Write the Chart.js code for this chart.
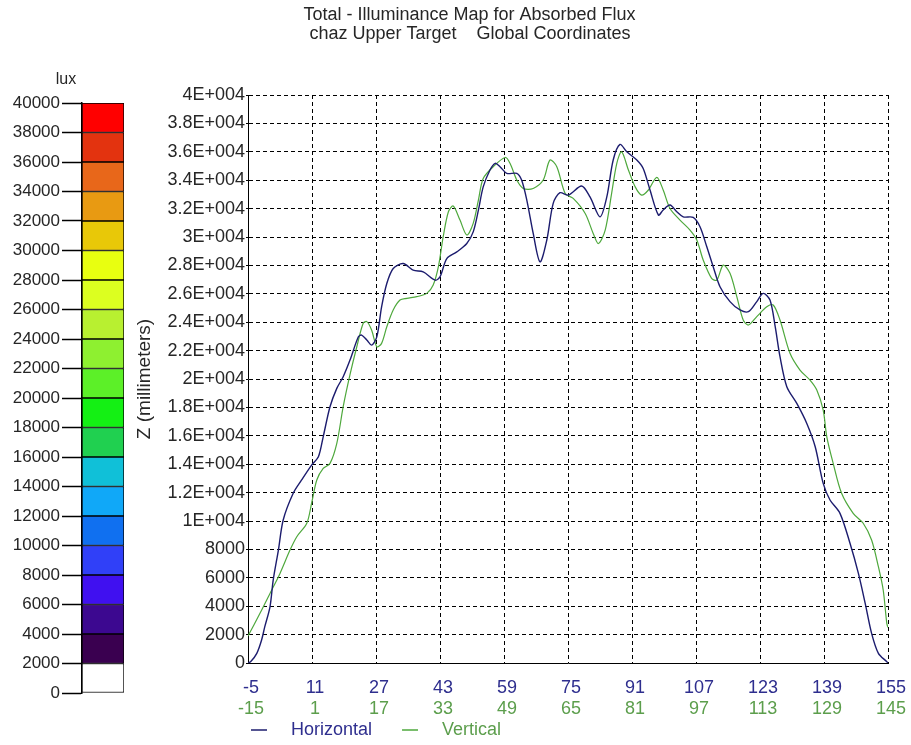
<!DOCTYPE html>
<html><head><meta charset="utf-8">
<script src="https://cdn.jsdelivr.net/npm/chart.js@4.4.1/dist/chart.umd.min.js"></script>
<style>
html,body{margin:0;padding:0;background:#fff;}
#wrap{position:relative;width:911px;height:745px;overflow:hidden;background:#fff;}
#main{position:absolute;left:0;top:0;}
#bar{position:absolute;left:0;top:0;}
</style></head><body>
<div id="wrap">
<canvas id="main" width="911" height="745"></canvas>
<canvas id="bar" width="130" height="745"></canvas>
</div>
<script>
// ---------- data ----------
const titleLines = ['Total - Illuminance Map for Absorbed Flux', 'chaz Upper Target    Global Coordinates'];
const seriesNames = ['Horizontal', 'Vertical'];
const yAxisTitle = 'Z (millimeters)';
const colorbarTitle = 'lux';

const hTicks = [-5, 11, 27, 43, 59, 75, 91, 107, 123, 139, 155];
const vTicks = [-15, 1, 17, 33, 49, 65, 81, 97, 113, 129, 145];

const hX = [-5, -4.3, -2.8, -1.6, -0.8, 0.5, 1.3, 2.6, 3.8, 6.3, 8.4, 10.9, 12.6, 13.8, 15.5, 17.2, 18.8, 20.5, 22.6, 23.4,
  24.7, 25.9, 27.2, 28.4, 29.7, 31.3, 33.8, 36.3, 38.8, 41.8, 43, 44.7, 47.2, 49.7, 51.3, 52.6, 53.8, 55.5, 56.8, 58,
  59.7, 62.2, 63.4, 64.7, 66.3, 68, 69.7, 71.3, 73, 75.1, 78.4, 80.5, 83, 84.7, 86.3, 88, 89.7, 92.2, 93.8, 95.5,
  97.6, 98.8, 100.5, 102.2, 103.8, 106.3, 108, 109.7, 111.3, 113, 115.5, 118, 120.1, 122.2, 123.8, 125.5, 126.8, 128, 129.7, 132.2,
  134.7, 136.8, 138.8, 140.5, 143, 145.5, 147.6, 149.3, 150.9, 152.6, 154.7, 155];
const hY = [0, 100, 680, 1620, 2560, 3960, 5840, 7950, 10070, 11950, 12890, 13940, 14520, 15930, 18050, 19340, 20160, 21330, 22970, 23090,
  22750, 22390, 22970, 25080, 26720, 27780, 28130, 27660, 27540, 26960, 27190, 28480, 28950, 29540, 30360, 31890, 33530, 34720, 35190, 34950,
  34480, 34480, 34010, 32600, 30250, 28250, 29790, 32370, 33120, 32950, 33590, 32820, 31420, 32820, 35420, 36520, 36000, 35420, 34830, 33310,
  31550, 31900, 32250, 31780, 31420, 31380, 30720, 29310, 27910, 26500, 25450, 24860, 24740, 25450, 26030, 25560, 23680, 21570, 19460, 18280,
  16870, 15230, 12650, 11480, 10540, 8430, 6310, 4200, 2090, 680, 90, 0];

const vX = [-15, -12, -9.5, -7, -4.5, -2.8, -0.3, 0.9, 2.2, 3.8, 5.5, 7.2, 8.8, 10.5, 12.2, 13.8, 14.7, 15.9, 17.2, 18.4,
  19.7, 21.3, 23, 24.7, 27.2, 29.7, 31.3, 32.6, 33.8, 35.1, 36.3, 38, 39.7, 41.3, 42.6, 43.8, 46.3, 49.3, 50.5, 52.2,
  53.8, 56.3, 58.8, 60.5, 62.2, 64.3, 66.3, 69.3, 71.3, 72.6, 74.3, 75.9, 77.2, 78.4, 80.1, 81.8, 83.4, 85.1, 87.2, 88.8,
  90.5, 93, 95.5, 97.2, 98.8, 100.9, 102.2, 103.8, 105.5, 107.2, 108.8, 110.1, 112.2, 114.7, 116.3, 118, 120.5, 123, 125.5, 127.2,
  128.8, 129.7, 131.3, 133.4, 136.3, 138.8, 140.9, 142.6, 143.8, 144.7, 145];
const vY = [1900, 3500, 4900, 6310, 7950, 8890, 9840, 11250, 12890, 13700, 14060, 15470, 18050, 20300, 22270, 23920, 24040, 23450, 22270, 22510,
  23680, 24860, 25560, 25680, 25800, 26030, 26620, 27910, 30020, 31780, 32180, 31190, 30140, 30960, 32600, 34120, 34950, 35600, 35190, 34010,
  33420, 33420, 34010, 35420, 34950, 33060, 32720, 31660, 30250, 29540, 30490, 33060, 35190, 36000, 34720, 33530, 32950, 33310, 34200, 33310,
  32010, 31190, 30490, 29790, 28380, 27090, 26960, 28020, 27440, 25800, 24150, 23800, 24390, 25080, 25210, 24150, 21810, 20630, 19920, 19220,
  17810, 15930, 14060, 11950, 10540, 9840, 8660, 6780, 5140, 2790, 2500];

// colour bar: band size (lux) from 0 upwards and colours
const bandValues = [2000, 2000, 2000, 2000, 2000, 2000, 2000, 2000, 2000, 2000, 2000, 2000, 2000, 2000, 2000, 2000, 2000, 2000, 2000, 2000];
const bandColors = ['#ffffff', '#3a0050', '#3c0890', '#4010f0', '#3040f8', '#1070f0', '#10a8f8', '#10c0d8', '#20d050', '#14f014',
  '#5cf028', '#8ef030', '#b8f030', '#dcff20', '#e8ff10', '#e8c808', '#e89a12', '#e8671a', '#e3330f', '#ff0000'];

// ---------- styling ----------
const NAVY = '#1c1c6e';
const GREEN = '#4ea83c';
const NAVY_T = '#2e2e8e';
const GREEN_T = '#5c9e4c';
const FONT = '"Liberation Sans", Arial, sans-serif';
const TXT = '#262626';

const titlePlugin = {
  id: 'topTitle',
  afterDraw(chart) {
    const ctx = chart.ctx;
    ctx.save();
    ctx.fillStyle = TXT;
    ctx.font = '18px ' + FONT;
    ctx.textAlign = 'center';
    ctx.textBaseline = 'middle';
    ctx.fillText(titleLines[0], 469.5, 15);
    ctx.fillText(titleLines[1], 470, 34);
    ctx.restore();
  }
};

const legendPlugin = {
  id: 'bottomLegend',
  afterDraw(chart) {
    const ctx = chart.ctx;
    ctx.save();
    ctx.font = '18px ' + FONT;
    ctx.textBaseline = 'middle';
    const y = 730;
    let x = 251;
    chart.data.datasets.forEach((ds, i) => {
      ctx.strokeStyle = ds.borderColor;
      ctx.lineWidth = 1.5;
      ctx.beginPath(); ctx.moveTo(x, y); ctx.lineTo(x + 16, y); ctx.stroke();
      x += 16 + 24;
      ctx.fillStyle = i === 0 ? NAVY_T : GREEN_T;
      ctx.fillText(ds.label, x, y);
      x += ctx.measureText(ds.label).width + 30;
    });
    ctx.restore();
  }
};

const noSidePad = s => { s.paddingLeft = 0; s.paddingRight = 0; };

new Chart(document.getElementById('main'), {
  type: 'line',
  data: {
    datasets: [
      { label: seriesNames[0], data: hX.map((x, i) => ({ x: x, y: hY[i] })), xAxisID: 'x', yAxisID: 'y',
        borderColor: NAVY, borderWidth: 1.4, pointRadius: 0, tension: 0.3, fill: false },
      { label: seriesNames[1], data: vX.map((x, i) => ({ x: x, y: vY[i] })), xAxisID: 'x2', yAxisID: 'y',
        borderColor: GREEN, borderWidth: 1.2, pointRadius: 0, tension: 0.3, fill: false }
    ]
  },
  options: {
    responsive: false, animation: false, devicePixelRatio: 1,
    layout: { padding: { left: 133, right: 23, top: 95, bottom: 24 } },
    plugins: { legend: { display: false }, title: { display: false }, tooltip: { enabled: false } },
    scales: {
      x: {
        type: 'linear', position: 'bottom', min: -5, max: 155, weight: 0,
        afterBuildTicks: s => { s.ticks = hTicks.map(v => ({ value: v })); },
        afterFit: s => { s.height = 34; noSidePad(s); },
        grid: { color: '#000', lineWidth: 1, drawTicks: false },
        border: { display: true, color: '#000', width: 1, dash: [4, 3] },
        ticks: { color: NAVY_T, font: { family: FONT, size: 18 }, padding: 14, labelOffset: 3, maxRotation: 0, autoSkip: false }
      },
      x2: {
        type: 'linear', position: 'bottom', min: -15, max: 145, weight: 1,
        afterBuildTicks: s => { s.ticks = vTicks.map(v => ({ value: v })); },
        afterFit: s => { s.height = 24; noSidePad(s); },
        grid: { display: false, drawTicks: false },
        border: { display: false },
        ticks: { color: GREEN_T, font: { family: FONT, size: 18 }, padding: 1, labelOffset: 3, maxRotation: 0, autoSkip: false }
      },
      y: {
        type: 'linear', min: 0, max: 40000,
        ticks: {
          stepSize: 2000, color: TXT, font: { family: FONT, size: 18 }, padding: 1, autoSkip: false,
          callback: v => v >= 10000 ? (v / 10000) + 'E+004' : String(v)
        },
        afterFit: s => { s.width = 248 - 133; },
        grid: { color: '#000', lineWidth: 1, tickLength: 2, tickColor: '#000' },
        border: { display: true, color: '#000', width: 1, dash: [4, 3] },
        title: { display: true, text: yAxisTitle, color: TXT, font: { family: FONT, size: 19 }, padding: 0 }
      }
    }
  },
  plugins: [titlePlugin, legendPlugin]
});

// ---------- colour bar ----------
const luxTitlePlugin = {
  id: 'luxTitle',
  afterDraw(chart) {
    const ctx = chart.ctx;
    ctx.save();
    ctx.fillStyle = TXT;
    ctx.font = '16px ' + FONT;
    ctx.textAlign = 'center';
    ctx.textBaseline = 'middle';
    ctx.fillText(colorbarTitle, 66, 80);
    ctx.restore();
  }
};

new Chart(document.getElementById('bar'), {
  type: 'bar',
  data: {
    labels: [''],
    datasets: bandValues.map((v, i) => ({
      data: [v], backgroundColor: bandColors[i], borderColor: '#000', borderWidth: 1,
      barPercentage: 1, categoryPercentage: 1, borderSkipped: false
    }))
  },
  options: {
    responsive: false, animation: false, devicePixelRatio: 1,
    layout: { padding: { left: 0, right: 6, top: 103, bottom: 52 } },
    plugins: { legend: { display: false }, tooltip: { enabled: false } },
    scales: {
      x: { stacked: true, display: false },
      y: {
        stacked: true, min: 0, max: 40000,
        ticks: { stepSize: 2000, color: TXT, font: { family: FONT, size: 17 }, padding: 2, autoSkip: false,
          callback: v => String(v) },
        afterFit: s => { s.width = 82; },
        grid: { drawOnChartArea: false, tickLength: 20, tickColor: '#000', tickWidth: 1.5 },
        border: { display: true, color: '#000', width: 1.5 }
      }
    }
  },
  plugins: [luxTitlePlugin]
});
</script>
</body></html>
